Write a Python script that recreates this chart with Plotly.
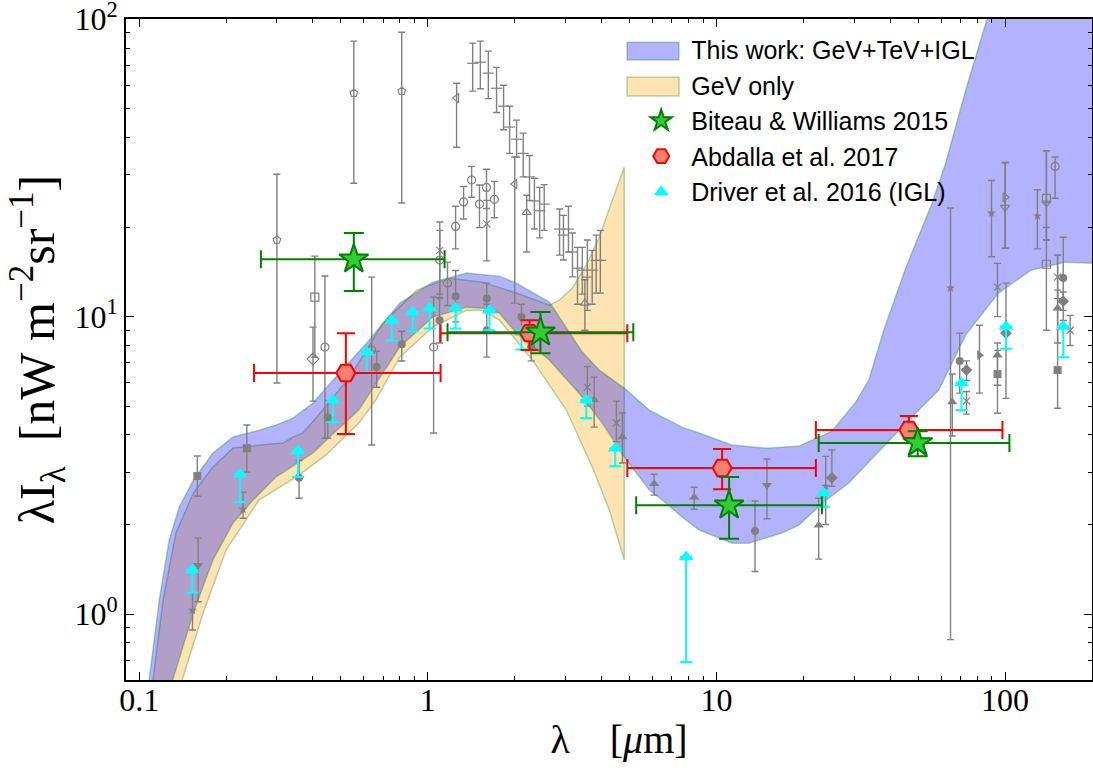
import numpy as np
import plotly.graph_objects as go

# ---------------- model bands: lambda [micron], lambda*I_lambda [nW m^-2 sr^-1]
blue_up_lam = [0.106, 0.1083, 0.1173, 0.127, 0.1375, 0.154, 0.180, 0.2114, 0.262, 0.2977,
               0.3407, 0.3996, 0.4687, 0.6143, 0.799, 1.039, 1.362, 1.771, 2.028, 2.638,
               3.43, 3.926, 4.792, 5.847, 7.60, 8.71, 11.32, 14.85, 19.3, 25.1,
               30.4, 33.7, 38.0, 45.2, 55.7, 62.2, 73.0, 86.3, 100, 230]
blue_up_val = [0.514, 0.605, 1.114, 1.773, 2.289, 2.821, 3.476, 3.936, 4.155, 4.318,
               4.559, 5.121, 6.116, 8.15, 11.1, 13.06, 14.01, 13.68, 12.96, 11.19,
               7.60, 6.61, 5.75, 4.85, 4.25, 4.06, 3.70, 3.61, 3.67, 4.12,
               5.16, 6.12, 9.01, 14.55, 23.9, 32.8, 57.7, 99.2, 160, 2000]
blue_lo_lam = [0.1245, 0.131, 0.154, 0.180, 0.2114, 0.248, 0.2977, 0.3575, 0.3996, 0.4687,
               0.5764, 0.6143, 0.799, 1.039, 1.362, 1.547, 1.771, 2.028, 2.638, 3.43,
               4.02, 4.792, 5.847, 6.695, 7.60, 8.71, 11.32, 12.96, 16.86, 19.3,
               23.5, 28.7, 33.7, 49.0, 58.9, 73.0, 94.9, 123, 162, 199, 230]
blue_lo_val = [0.514, 0.605, 1.008, 1.519, 2.023, 2.416, 2.887, 3.243, 3.476, 4.03,
               4.851, 5.364, 7.90, 9.96, 10.76, 10.68, 10.27, 8.80, 7.14, 5.364,
               4.386, 3.371, 2.611, 2.361, 2.118, 1.916, 1.73, 1.73, 1.872, 1.99,
               2.38, 2.756, 3.243, 4.74, 5.66, 8.67, 12.0, 14.33, 15.25, 15.13, 15.0]
orange_up_lam = [0.1094, 0.1118, 0.121, 0.134, 0.154, 0.180, 0.2114, 0.262, 0.3147, 0.3407,
                 0.369, 0.4126, 0.5365, 0.698, 0.915, 1.19, 1.547, 2.028, 2.495, 2.638,
                 2.856, 3.168, 3.54, 3.926, 4.355, 4.792]
orange_up_val = [0.514, 0.605, 1.114, 1.872, 2.551, 3.12, 3.614, 3.699, 3.757, 3.936,
                 4.059, 4.594, 6.26, 9.51, 12.28, 13.47, 13.06, 12.0, 11.1, 10.93,
                 11.36, 12.47, 14.9, 18.5, 24.6, 31.8]
orange_lo_lam = [0.134, 0.141, 0.1665, 0.200, 0.26, 0.3575, 0.443, 0.5764, 0.66, 0.799,
                 1.039, 1.362, 1.547, 1.771, 2.303, 3.02, 3.713, 4.253, 4.792]
orange_lo_val = [0.514, 0.60, 1.008, 1.641, 2.416, 2.93, 3.42, 4.386, 5.24, 7.31,
                 9.22, 10.5, 10.5, 9.73, 7.14, 4.851, 3.12, 2.236, 1.519]

# ---------------- literature data (grey): (lambda, value, lower, upper)
grey_square = [(0.159, 2.91, 2.49, 3.40), (0.236, 3.61, 3.00, 4.32), (94.1, 6.41, 4.73, 7.70),
               (152, 6.61, 4.92, 16.1)]
grey_tridown = [(0.160, 1.46, 1.10, 1.80), (14.96, 2.71, 2.09, 3.32)]
grey_star = [(0.153, 1.03, 0.884, 1.18), (0.229, 2.25, 2.10, 2.57), (23.9, 2.69, 2.00, 3.39),
             (64.7, 12.47, 0.82, 23.2), (89.7, 22.3, 15.9, 28.7), (129.4, 21.8, 16.9, 26.7)]
grey_circle = [(0.358, 2.87, 2.45, 3.29), (0.450, 4.59, 3.90, 5.24), (0.665, 6.77, 5.79, 7.65),
               (0.812, 8.08, 7.09, 8.93), (1.098, 9.73, 8.15, 11.6), (1.248, 11.72, 9.60, 14.3),
               (1.60, 11.5, 10.4, 12.96), (1.60, 9.0, 7.31, 11.0), (2.11, 10.0, 9.0, 11.0),
               (2.28, 7.9, 7.1, 8.8), (13.6, 1.90, 1.39, 2.40), (69.6, 7.09, 5.53, 8.80),
               (159, 13.48, 9.7, 18.5)]
grey_diamond = [(25.1, 2.87, 2.69, 3.56), (73.5, 6.61, 6.1, 7.1), (100.7, 8.8, 5.31, 12.96),
                (159, 11.27, 10.5, 12.1)]
grey_pentagon_open = [(0.300, 18.1, 5.98, 30.1), (0.554, 56.4, 28.1, 84.4), (0.812, 57.3, 24.1, 90.4)]
grey_square_open = [(0.406, 11.63, 7.3, 15.97), (139, 25.0, 18.1, 36.1), (139, 15.0, 9.0, 19.95)]
grey_diamond_open = [(0.400, 7.2, 5.2, 9.22)]
grey_circle_open = [(0.440, 7.90, 3.90, 13.7), (0.639, 7.72, 3.70, 13.58), (1.047, 7.90, 4.06, 11.63),
                    (1.10, 15.5, 11.5, 19.5), (1.17, 12.96, 10.9, 15.25), (1.248, 20.1, 16.9, 23.5),
                    (1.33, 24.3, 21.3, 27.4), (1.418, 28.8, 25.2, 32.0), (1.51, 23.9, 19.95, 27.7),
                    (1.597, 27.2, 23.1, 31.3), (1.70, 24.8, 21.5, 28.5), (149, 32.0, 25.0, 34.4)]
grey_x = [(1.10, 16.7, 11.9, 20.8), (1.60, 20.5, 15.4, 24.6), (3.57, 5.79, 5.0, 6.8),
          (4.50, 4.39, 3.8, 5.2), (73.5, 5.2, 4.7, 5.6), (94.1, 12.57, 10.0, 15.1),
          (152, 13.58, 11.5, 16.1), (168, 9.0, 8.0, 10.1)]
grey_trileft_open = [(1.258, 54.3, 37.1, 60.9), (2.0, 27.9, 11.1, 34.4)]
grey_triup_open = [(2.20, 22.4, 16.5, 25.6), (3.50, 11.1, 9.0, 13.3)]
grey_triup = [(3.77, 5.24, 4.25, 6.26), (4.72, 3.94, 3.22, 4.74), (6.08, 2.74, 2.51, 2.95),
              (8.37, 2.47, 2.25, 2.67), (22.6, 1.99, 1.53, 2.45), (65.6, 5.16, 3.97, 6.41),
              (94.1, 7.42, 5.88, 8.15), (152, 10.68, 8.15, 12.28)]
grey_triright = [(81.5, 7.42, 5.53, 9.35)]
grey_triright_open = [(100, 25.2, 17.0, 33.0)]
grey_tridown_open = [(100, 23.3, 17.0, 33.0), (139, 24.1, 18.1, 36.1)]
grey_dash = [(1.43, 71.1, 57.3, 83.1), (1.52, 71.7, 58.4, 84.4), (1.62, 65.9, 54.1, 78.1),
             (1.73, 58.6, 48.6, 68.9), (1.83, 51.0, 42.5, 60.0), (1.92, 43.4, 35.4, 51.0),
             (2.03, 39.5, 34.4, 45.8), (2.14, 35.4, 29.5, 41.4), (2.25, 29.5, 24.6, 34.8),
             (2.34, 24.5, 19.7, 29.2), (2.44, 22.7, 18.4, 27.2), (2.53, 23.9, 19.5, 27.8),
             (2.86, 19.7, 16.1, 23.0), (2.95, 18.8, 15.5, 21.9), (3.07, 19.7, 16.5, 23.5),
             (3.17, 16.5, 13.6, 19.1), (3.30, 14.55, 11.0, 17.1), (3.43, 14.33, 11.9, 17.1),
             (3.57, 13.58, 10.5, 18.1), (3.71, 14.33, 11.0, 16.7), (3.83, 15.46, 12.0, 18.8),
             (3.96, 15.46, 12.0, 19.5)]

# ---------------- Biteau & Williams 2015
bw_lam = [0.554, 2.455, 11.06, 49.8]
bw_lam_lo = [0.264, 1.17, 5.27, 22.6]
bw_lam_hi = [1.143, 5.15, 23.2, 103.5]
bw_val = [15.6, 8.86, 2.32, 3.76]
bw_lo = [12.2, 7.53, 1.79, 3.39]
bw_hi = [19.1, 10.37, 2.89, 4.12]

# ---------------- Abdalla et al. 2017
ab_lam = [0.52, 2.25, 10.46, 46.4]
ab_lam_lo = [0.25, 1.107, 4.91, 22.1]
ab_lam_hi = [1.107, 4.91, 22.1, 97.9]
ab_val = [6.46, 8.8, 3.10, 4.155]
ab_lo = [4.03, 7.72, 2.63, 3.76]
ab_hi = [8.8, 9.73, 3.59, 4.63]

# ---------------- Driver et al. 2016 (IGL)
dr_lam = [0.1526, 0.2235, 0.355, 0.4687, 0.6143, 0.75, 0.886, 1.014, 1.248, 1.635,
          2.11, 3.54, 4.46, 7.85, 23.5, 70.6, 100.7, 159]
dr_val = [1.406, 2.955, 3.53, 5.24, 7.6, 9.73, 10.37, 10.68, 10.68, 10.5,
          8.86, 5.24, 3.61, 1.555, 2.55, 5.98, 9.27, 9.27]
dr_lo = [1.18, 2.38, 2.89, 4.42, 6.5, 8.32, 8.93, 9.13, 9.13, 9.0,
         7.76, 4.56, 3.14, 0.69, 2.29, 4.85, 7.8, 7.3]

fig = go.Figure()

EDGE = 'rgba(0,128,0,0.3)'
BLUE_FILL = 'rgba(0,0,255,0.3)'
ORANGE_FILL = 'rgba(255,165,0,0.3)'


def band(lu, vu, ll, vl, fill):
    fig.add_trace(go.Scatter(
        x=list(lu) + list(ll)[::-1], y=list(vu) + list(vl)[::-1],
        mode='lines', fill='toself', fillcolor=fill,
        line=dict(color=EDGE, width=1.5), showlegend=False, hoverinfo='skip'))


band(orange_up_lam, orange_up_val, orange_lo_lam, orange_lo_val, ORANGE_FILL)
band(blue_up_lam, blue_up_val, blue_lo_lam, blue_lo_val, BLUE_FILL)

# legend entries of the two bands (swatches drawn as rectangles below)
for nm, rk in [('This work: GeV+TeV+IGL', 1), ('GeV only', 2)]:
    fig.add_trace(go.Scatter(x=[None], y=[None], mode='lines', name=nm,
                             legendrank=rk, legendgroup=nm,
                             line=dict(width=0, color='rgba(0,0,0,0)')))

GREY = 'rgb(128,128,128)'


def grey(rows, symbol, size, lw=1.2):
    lam = [r[0] for r in rows]
    val = [r[1] for r in rows]
    lo = [r[1] - r[2] for r in rows]
    hi = [r[3] - r[1] for r in rows]
    fig.add_trace(go.Scatter(
        x=lam, y=val, mode='markers', showlegend=False, hoverinfo='skip',
        marker=dict(symbol=symbol, size=size, color=GREY,
                    line=dict(color=GREY, width=lw)),
        error_y=dict(type='data', symmetric=False, array=hi, arrayminus=lo,
                     color=GREY, thickness=1.4, width=3.5)))


grey(grey_square, 'square', 8, 0)
grey(grey_tridown, 'triangle-down', 9, 0)
grey(grey_star, 'star', 7, 0)
grey(grey_circle, 'circle', 8, 0)
grey(grey_diamond, 'diamond', 9, 0)
grey(grey_pentagon_open, 'pentagon-open', 8)
grey(grey_square_open, 'square-open', 8)
grey(grey_diamond_open, 'diamond-open', 9)
grey(grey_circle_open, 'circle-open', 8)
grey(grey_x, 'x-thin-open', 7)
grey(grey_trileft_open, 'triangle-left-open', 8)
grey(grey_triup_open, 'triangle-up-open', 8)
grey(grey_triup, 'triangle-up', 9, 0)
grey(grey_triright, 'triangle-right', 9, 0)
grey(grey_triright_open, 'triangle-right-open', 8)
grey(grey_tridown_open, 'triangle-down-open', 8)
grey(grey_dash, 'line-ew-open', 8)

# Driver et al.
fig.add_trace(go.Scatter(
    x=dr_lam, y=dr_val, mode='markers', name='Driver et al. 2016 (IGL)',
    legendrank=5, legendgroup='dr',
    marker=dict(symbol='triangle-up', size=13, color='cyan', line=dict(width=0)),
    error_y=dict(type='data', symmetric=False, array=[0] * len(dr_val),
                 arrayminus=[v - l for v, l in zip(dr_val, dr_lo)],
                 color='cyan', thickness=2, width=6)))

# Abdalla et al.
fig.add_trace(go.Scatter(
    x=ab_lam, y=ab_val, mode='markers', name='Abdalla et al. 2017',
    legendrank=4, legendgroup='ab',
    marker=dict(symbol='hexagon2', size=19, color='rgb(250,128,114)',
                line=dict(color='red', width=2)),
    error_y=dict(type='data', symmetric=False,
                 array=[h - v for v, h in zip(ab_val, ab_hi)],
                 arrayminus=[v - l for v, l in zip(ab_val, ab_lo)],
                 color='red', thickness=2, width=9),
    error_x=dict(type='data', symmetric=False,
                 array=[h - v for v, h in zip(ab_lam, ab_lam_hi)],
                 arrayminus=[v - l for v, l in zip(ab_lam, ab_lam_lo)],
                 color='red', thickness=2, width=9)))

# Biteau & Williams
fig.add_trace(go.Scatter(
    x=bw_lam, y=bw_val, mode='markers', name='Biteau & Williams 2015',
    legendrank=3, legendgroup='bw',
    marker=dict(symbol='star', size=22, color='rgb(50,205,50)',
                line=dict(color='green', width=2)),
    error_y=dict(type='data', symmetric=False,
                 array=[h - v for v, h in zip(bw_val, bw_hi)],
                 arrayminus=[v - l for v, l in zip(bw_val, bw_lo)],
                 color='green', thickness=2, width=10),
    error_x=dict(type='data', symmetric=False,
                 array=[h - v for v, h in zip(bw_lam, bw_lam_hi)],
                 arrayminus=[v - l for v, l in zip(bw_lam, bw_lam_lo)],
                 color='green', thickness=2, width=9)))

SERIF = 'Liberation Serif'
x_major = [0.1, 1, 10, 100]
x_minor = [m * 10.0 ** e for e in range(-2, 3) for m in range(2, 10)]
y_major = [1, 10, 100]
y_minor = [m * 10.0 ** e for e in range(-1, 2) for m in range(2, 10)]

axis_common = dict(type='log', showgrid=False, zeroline=False, showline=True,
                   linecolor='black', linewidth=1.6, mirror='ticks',
                   ticks='inside', ticklen=8, tickwidth=1.4, tickcolor='black',
                   ticklabeloverflow='allow',
                   tickfont=dict(family=SERIF, size=32, color='black'))

fig.update_xaxes(**axis_common, range=[np.log10(0.09), np.log10(200)],
                 tickmode='array', tickvals=x_major, ticktext=['0.1', '1', '10', '100'],
                 ticklabelstandoff=-9,
                 minor=dict(tickmode='array', tickvals=x_minor, ticks='inside',
                            ticklen=4, tickwidth=1.1, tickcolor='black', showgrid=False),
                 title=dict(text='&nbsp;&nbsp;λ    [<i>μ</i>m]',
                            font=dict(family=SERIF, size=40, color='black'), standoff=8))
fig.update_yaxes(**axis_common, range=[np.log10(0.6), 2.0008],
                 tickmode='array', tickvals=y_major,
                 ticktext=['10<sup>0</sup>', '10<sup>1</sup>', '10<sup>2</sup>'],
                 minor=dict(tickmode='array', tickvals=y_minor, ticks='inside',
                            ticklen=4, tickwidth=1.1, tickcolor='black', showgrid=False),
                 title=dict(text='λI<sub>λ</sub>  [nW m<sup>−2</sup>sr<sup>−1</sup>]',
                            font=dict(family=SERIF, size=50, color='black'), standoff=4))

# legend swatches for the bands (paper coordinates)
for y0, y1, col in [(0.938, 0.965, BLUE_FILL), (0.8835, 0.912, ORANGE_FILL)]:
    fig.add_shape(type='rect', xref='paper', yref='paper', x0=0.5187, x1=0.5725,
                  y0=y0, y1=y1, fillcolor=col, line=dict(color=EDGE, width=1.5),
                  layer='above')

fig.update_layout(
    width=1093, height=776,
    margin=dict(l=126, r=1, t=19, b=96, autoexpand=False),
    plot_bgcolor='white', paper_bgcolor='white',
    legend=dict(x=0.523, y=0.988, xanchor='left', yanchor='top',
                bgcolor='rgba(0,0,0,0)', traceorder='grouped', tracegroupgap=0,
                font=dict(family='Liberation Sans', size=25, color='black'),
                itemwidth=50),
)

fig.write_html("out.html", config={'displayModeBar': False},
               post_script="document.body.style.margin='0';")
